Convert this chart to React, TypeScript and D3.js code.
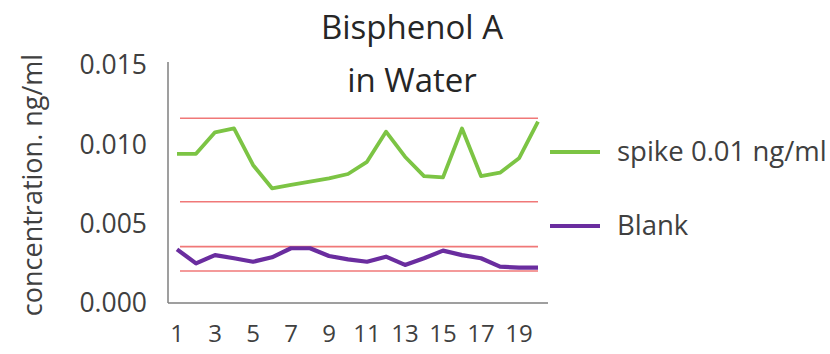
import React, { useEffect, useRef } from "react";
import * as d3 from "d3";

const samples = d3.range(1, 21);
const spike = [0.0094, 0.0094, 0.01076, 0.011, 0.0087, 0.00723, 0.00744, 0.00765, 0.00786, 0.00813, 0.0089, 0.0108, 0.00922, 0.008, 0.00792, 0.011, 0.008, 0.00821, 0.00912, 0.01143];
const blank = [0.00338, 0.0025, 0.00302, 0.00282, 0.0026, 0.00288, 0.00345, 0.00345, 0.00296, 0.00275, 0.0026, 0.00292, 0.0024, 0.00282, 0.0033, 0.00302, 0.00282, 0.00229, 0.00223, 0.00223];
const limits = [0.01164, 0.00638, 0.00355, 0.00202];
const yTicks = [0, 0.005, 0.01, 0.015];
const xTicks = [1, 3, 5, 7, 9, 11, 13, 15, 17, 19];

const font = "'Open Sans', sans-serif";

const App = () => {
  const ref = useRef<SVGSVGElement>(null);

  useEffect(() => {
    const svg = d3.select(ref.current);
    svg.selectAll("*").remove();

    const x = d3.scaleLinear().domain([1, 20]).range([177, 538]);
    const y = d3.scaleLinear().domain([0, 0.015]).range([303, 65]);

    // limit lines
    svg
      .selectAll("line.limit")
      .data(limits)
      .enter()
      .append("line")
      .attr("class", "limit")
      .attr("x1", x(1) + 3)
      .attr("x2", x(20))
      .attr("y1", d => y(d))
      .attr("y2", d => y(d))
      .attr("stroke", "#f07878")
      .attr("stroke-width", 1.6);

    // axes
    svg
      .append("line")
      .attr("x1", 168)
      .attr("x2", 168)
      .attr("y1", y(0.015) - 3)
      .attr("y2", y(0))
      .attr("stroke", "#7f7f7f")
      .attr("stroke-width", 1.5);
    svg
      .append("line")
      .attr("x1", 168)
      .attr("x2", 548)
      .attr("y1", y(0))
      .attr("y2", y(0))
      .attr("stroke", "#7f7f7f")
      .attr("stroke-width", 1.5);

    svg
      .selectAll("text.ytick")
      .data(yTicks)
      .enter()
      .append("text")
      .attr("class", "ytick")
      .attr("x", 147)
      .attr("y", d => y(d))
      .attr("dy", "0.35em")
      .attr("text-anchor", "end")
      .attr("font-family", font)
      .attr("font-size", 26.5)
      .attr("fill", "#404040")
      .text(d => d3.format(".3f")(d));

    svg
      .selectAll("text.xtick")
      .data(xTicks)
      .enter()
      .append("text")
      .attr("class", "xtick")
      .attr("x", d => x(d))
      .attr("y", 334)
      .attr("dy", "0.35em")
      .attr("text-anchor", "middle")
      .attr("font-family", font)
      .attr("font-size", 24)
      .attr("fill", "#404040")
      .text(d => d);

    svg
      .append("text")
      .attr("transform", "translate(33,185) rotate(-90)")
      .attr("dy", "0.35em")
      .attr("text-anchor", "middle")
      .attr("font-family", font)
      .attr("font-size", 27)
      .attr("fill", "#404040")
      .text("concentration. ng/ml");

    // title
    svg
      .selectAll("text.title")
      .data(["Bisphenol A", "in Water"])
      .enter()
      .append("text")
      .attr("class", "title")
      .attr("x", 412)
      .attr("y", (d, i) => 27 + i * 53)
      .attr("dy", "0.35em")
      .attr("text-anchor", "middle")
      .attr("font-family", font)
      .attr("font-size", 33)
      .attr("fill", "#262626")
      .text(d => d);

    const line = d3
      .line<number>()
      .x((d, i) => x(samples[i]))
      .y(d => y(d));

    svg
      .append("path")
      .attr("d", line(spike))
      .attr("fill", "none")
      .attr("stroke", "#7cc444")
      .attr("stroke-width", 3.8)
      .attr("stroke-linejoin", "round");

    svg
      .append("path")
      .attr("d", line(blank))
      .attr("fill", "none")
      .attr("stroke", "#6a2d9f")
      .attr("stroke-width", 4.2)
      .attr("stroke-linejoin", "round");

    // legend
    const legend = [
      { name: "spike 0.01 ng/ml", color: "#7cc444", y: 152 },
      { name: "Blank", color: "#6a2d9f", y: 226 },
    ];
    const lg = svg
      .selectAll("g.legend")
      .data(legend)
      .enter()
      .append("g")
      .attr("class", "legend");
    lg.append("line")
      .attr("x1", 550)
      .attr("x2", 600)
      .attr("y1", d => d.y)
      .attr("y2", d => d.y)
      .attr("stroke", d => d.color)
      .attr("stroke-width", 4);
    lg.append("text")
      .attr("x", 617)
      .attr("y", d => d.y)
      .attr("dy", "0.32em")
      .attr("font-family", font)
      .attr("font-size", 27.5)
      .attr("fill", "#404040")
      .text(d => d.name);
  }, []);

  return (
    <svg
      ref={ref}
      width={830}
      height={354}
      style={{ position: "absolute", left: 0, top: 0, background: "#fff" }}
    />
  );
};

export default App;
